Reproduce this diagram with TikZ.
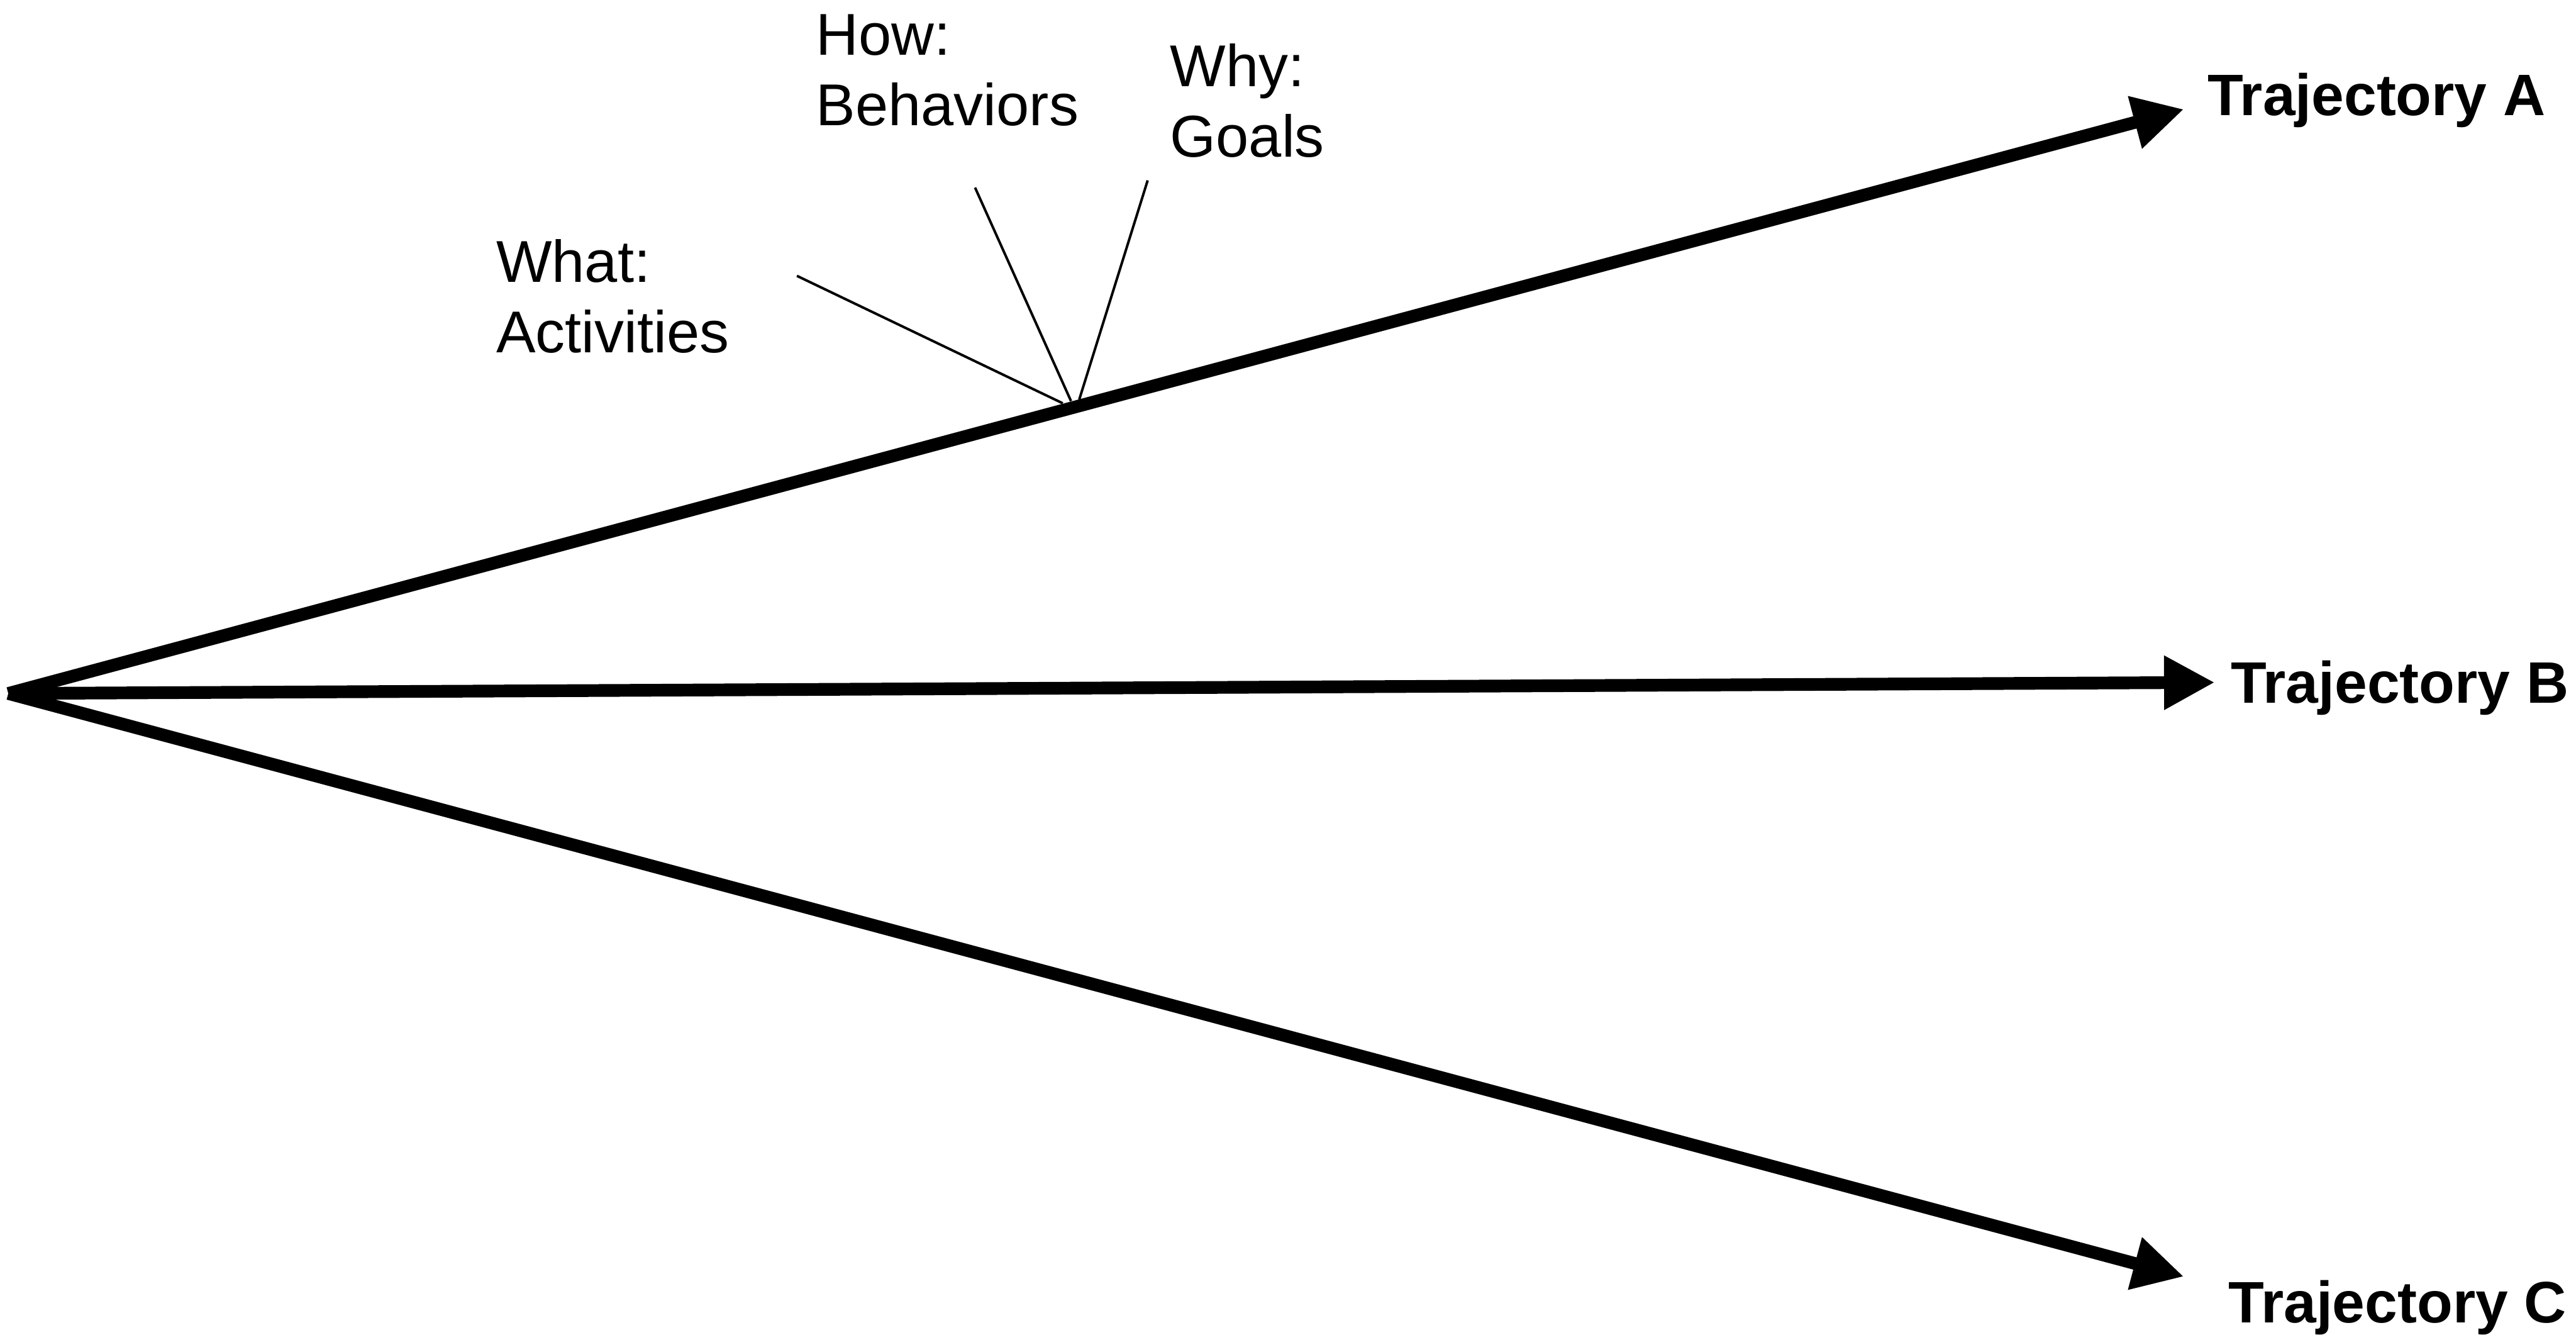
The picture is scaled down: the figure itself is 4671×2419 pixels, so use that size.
\documentclass[tikz,border=0pt]{standalone}
\usepackage{fontspec}
\setmainfont{Liberation Sans}
\usetikzlibrary{arrows.meta}
\tikzset{
  traj/.style={line width=2.3pt, -{Triangle[length=9.2pt,width=9.2pt]}},
  thin/.style={line width=0.45pt},
  lbl/.style={inner sep=0pt, anchor=base west, align=left, font=\fontsize{10.7}{12.8}\selectfont},
  blbl/.style={lbl, font=\fontsize{10.6}{12.8}\selectfont\bfseries}
}
\begin{document}
\begin{tikzpicture}[x=0.1pt,y=-0.1pt]
\useasboundingbox (0,0) rectangle (4671,2419);
\coordinate (O) at (15,1257);
\coordinate (ta) at (3960,198);
\coordinate (tb) at (4016,1237);
\coordinate (tc) at (3960,2314);
\draw[traj] (O) -- (ta);
\draw[traj] (O) -- (tb);
\draw[traj] (O) -- (tc);
\node[blbl] (lA) at (4001,209) {Trajectory A};
\node[blbl] (lB) at (4043,1274) {Trajectory B};
\node[blbl] (lC) at (4039,2398) {Trajectory C};
\node[lbl] (what) at (898,639) {What:\\Activities};
\node[lbl] (how) at (1478,228) {How:\\Behaviors};
\node[lbl] (why) at (2120,285) {Why:\\Goals};
\coordinate (w1) at (1445,500);
\coordinate (w2) at (1927,731);
\coordinate (h1) at (1768,340);
\coordinate (h2) at (1942,727);
\coordinate (y1) at (2081,327);
\coordinate (y2) at (1957,724);
\draw[thin] (w1) -- (w2);
\draw[thin] (h1) -- (h2);
\draw[thin] (y1) -- (y2);
\end{tikzpicture}
\end{document}
